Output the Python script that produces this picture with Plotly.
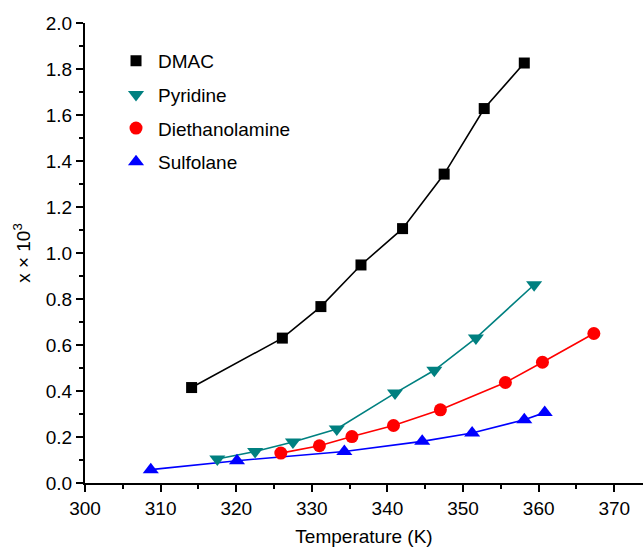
import plotly.graph_objects as go

# Data
dmac_T = [314.1, 326.1, 331.2, 336.5, 342.0, 347.5, 352.8, 358.1]
dmac_x = [0.415, 0.630, 0.767, 0.948, 1.106, 1.343, 1.628, 1.826]

pyr_T = [317.5, 322.5, 327.5, 333.3, 341.0, 346.2, 351.7, 359.4]
pyr_x = [0.104, 0.137, 0.178, 0.235, 0.391, 0.490, 0.630, 0.862]

dea_T = [325.9, 331.0, 335.3, 340.8, 347.0, 355.6, 360.5, 367.3]
dea_x = [0.130, 0.162, 0.202, 0.250, 0.318, 0.437, 0.525, 0.650]

sul_T = [308.7, 320.1, 334.3, 344.6, 351.2, 358.1, 360.8]
sul_x = [0.058, 0.097, 0.137, 0.181, 0.217, 0.275, 0.306]

names = ["DMAC", "Pyridine", "Diethanolamine", "Sulfolane"]
colors = ["#000000", "#008080", "#ff0000", "#0000ff"]
symbols = ["square", "triangle-down", "circle", "triangle-up"]
sizes = [11, 14, 13, 14]
series = [(dmac_T, dmac_x), (pyr_T, pyr_x), (dea_T, dea_x), (sul_T, sul_x)]

FONT = "Liberation Sans, Arial, sans-serif"
FS = 19

fig = go.Figure()
for (T, x), n, c, s, sz in zip(series, names, colors, symbols, sizes):
    fig.add_trace(go.Scatter(
        x=T, y=x, mode="lines", line=dict(color=c, width=1.6),
        showlegend=False, hoverinfo="skip"))
for (T, x), n, c, s, sz in zip(series, names, colors, symbols, sizes):
    fig.add_trace(go.Scatter(
        x=T, y=x, mode="markers", name=n, legendgroup=n,
        marker=dict(symbol=s, color=c, size=sz, line=dict(width=0))))

fig.update_layout(
    width=643, height=548,
    margin=dict(l=85, r=0, t=23, b=65),
    paper_bgcolor="white", plot_bgcolor="white",
    font=dict(family=FONT, size=FS, color="black"),
    showlegend=True,
    legend=dict(x=0.052, y=0.959, xanchor="left", yanchor="top",
                bgcolor="rgba(0,0,0,0)", font=dict(size=FS),
                tracegroupgap=6, itemwidth=34),
    xaxis=dict(
        range=[300, 373.8], dtick=10, tick0=300,
        showline=True, linecolor="black", linewidth=2,
        ticks="outside", ticklen=7, tickwidth=2, tickcolor="black",
        showgrid=False, zeroline=False,
        minor=dict(dtick=5, ticks="outside", ticklen=4, tickwidth=2, tickcolor="black"),
        title=dict(text="Temperature (K)", font=dict(size=FS), standoff=12),
        tickfont=dict(size=FS),
    ),
    yaxis=dict(
        range=[0, 2.0], dtick=0.2, tick0=0, tickformat=".1f",
        showline=True, linecolor="black", linewidth=2,
        ticks="outside", ticklen=7, tickwidth=2, tickcolor="black",
        showgrid=False, zeroline=False,
        minor=dict(dtick=0.1, ticks="outside", ticklen=4, tickwidth=2, tickcolor="black"),
        title=dict(text="x \u00d7 10<sup>3</sup>", font=dict(size=FS), standoff=10),
        tickfont=dict(size=FS),
    ),
)

fig.write_html("out.html", config={"displayModeBar": False},
               post_script="document.body.style.margin='0px';")
